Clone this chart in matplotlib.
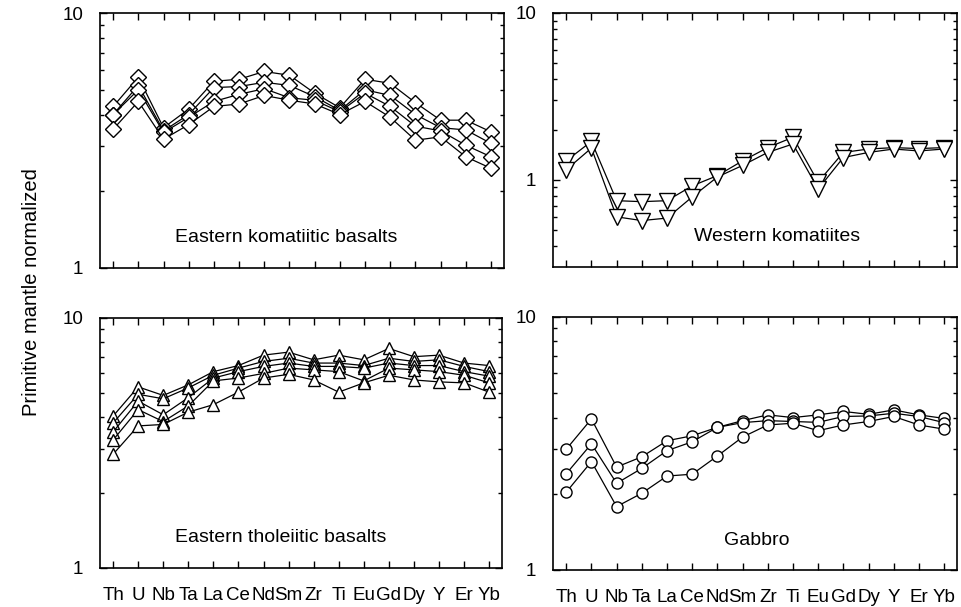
import numpy as np
import matplotlib
matplotlib.use("Agg")
import matplotlib.pyplot as plt
from matplotlib.ticker import FixedLocator, NullFormatter

plt.rcParams['font.family'] = ['Liberation Sans', 'DejaVu Sans']

elements = ['Th', 'U', 'Nb', 'Ta', 'La', 'Ce', 'Nd', 'Sm', 'Zr', 'Ti',
            'Eu', 'Gd', 'Dy', 'Y', 'Er', 'Yb']

# Eastern komatiitic basalts (4 samples)
ekb_1 = [4.3, 5.6, 3.55, 4.2, 5.4, 5.5, 5.9, 5.7, 4.85, 4.25, 5.5, 5.3, 4.45, 3.8, 3.8, 3.42]
ekb_2 = [4.0, 5.2, 3.45, 4.0, 5.1, 5.15, 5.35, 5.2, 4.7, 4.15, 5.0, 4.75, 4.0, 3.55, 3.48, 3.08]
ekb_3 = [4.0, 5.0, 3.4, 3.9, 4.5, 4.8, 5.05, 4.65, 4.55, 4.1, 4.85, 4.3, 3.6, 3.45, 3.03, 2.73]
ekb_4 = [3.5, 4.5, 3.2, 3.65, 4.3, 4.4, 4.75, 4.55, 4.4, 4.0, 4.5, 3.9, 3.17, 3.27, 2.73, 2.46]

# Western komatiites (2 samples)
wk_1 = [1.3, 1.7, 0.75, 0.74, 0.75, 0.92, 1.06, 1.30, 1.56, 1.80, 0.97, 1.46, 1.53, 1.56, 1.54, 1.56]
wk_2 = [1.15, 1.55, 0.60, 0.57, 0.59, 0.79, 1.04, 1.22, 1.46, 1.64, 0.88, 1.36, 1.46, 1.53, 1.49, 1.53]

# Eastern tholeiitic basalts (5 samples)
etb_1 = [4.05, 5.3, 4.9, 5.4, 6.1, 6.45, 7.1, 7.3, 6.8, 7.1, 6.8, 7.55, 7.0, 7.1, 6.6, 6.45]
etb_2 = [3.8, 4.95, 4.75, 5.25, 5.9, 6.3, 6.7, 6.9, 6.6, 6.6, 6.45, 6.9, 6.7, 6.8, 6.4, 6.1]
etb_3 = [3.5, 4.65, 4.1, 4.8, 5.75, 6.1, 6.4, 6.6, 6.4, 6.4, 6.3, 6.6, 6.45, 6.45, 6.1, 5.85]
etb_4 = [3.25, 4.3, 3.85, 4.45, 5.6, 5.75, 6.0, 6.3, 6.2, 6.1, 5.6, 6.3, 6.2, 6.1, 5.9, 5.5]
etb_5 = [2.85, 3.7, 3.75, 4.2, 4.5, 5.05, 5.75, 5.95, 5.65, 5.05, 5.5, 5.9, 5.65, 5.55, 5.5, 5.05]

# Gabbro (3 samples)
gab_1 = [3.0, 3.95, 2.55, 2.8, 3.24, 3.39, 3.66, 3.89, 4.1, 4.0, 4.1, 4.23, 4.12, 4.29, 4.1, 3.97]
gab_2 = [2.4, 3.15, 2.2, 2.52, 2.96, 3.21, 3.66, 3.82, 3.89, 3.86, 3.83, 4.04, 4.06, 4.16, 4.04, 3.82]
gab_3 = [2.03, 2.68, 1.78, 2.01, 2.35, 2.39, 2.82, 3.35, 3.74, 3.8, 3.55, 3.74, 3.86, 4.04, 3.74, 3.6]

x = np.arange(len(elements))

fig = plt.figure(figsize=(9.62, 6.07), dpi=100)
ax_tl = fig.add_axes([0.104, 0.5585, 0.420, 0.420])
ax_tr = fig.add_axes([0.575, 0.560, 0.420, 0.4186])
ax_bl = fig.add_axes([0.104, 0.0643, 0.418, 0.4119])
ax_br = fig.add_axes([0.575, 0.061, 0.420, 0.417])


def style_axis(ax, ylo, yhi, minors, labels_x):
    ax.set_yscale('log')
    ax.set_xlim(-0.52, 15.52)
    ax.set_ylim(ylo, yhi)
    ax.set_xticks(x)
    if labels_x:
        ax.set_xticklabels(elements, fontsize=13.5)
    else:
        ax.set_xticklabels([])
    ax.yaxis.set_major_locator(FixedLocator([1, 10]))
    ax.set_yticklabels(['1', '10'], fontsize=13.5)
    ax.yaxis.set_minor_locator(FixedLocator(minors))
    ax.yaxis.set_minor_formatter(NullFormatter())
    ax.tick_params(axis='x', which='major', direction='in', top=True, bottom=True,
                   length=5, width=1, pad=14)
    ax.tick_params(axis='y', which='major', direction='in', left=True, right=True,
                   length=5, width=1, pad=12)
    ax.tick_params(axis='y', which='minor', direction='in', left=True, right=True,
                   length=3, width=1)
    for s in ax.spines.values():
        s.set_linewidth(1.2)


def draw(ax, series, marker, ms):
    for s in series:
        ax.plot(x, s, color='black', lw=0.9, marker=marker, ms=ms,
                mfc='white', mec='black', mew=1.0)


minor_1_10 = [2, 3, 4, 5, 6, 7, 8, 9]

draw(ax_tl, [ekb_1, ekb_2, ekb_3, ekb_4], 'D', 8)
style_axis(ax_tl, 1, 10, minor_1_10, False)
ax_tl.text(0.46, 0.12, 'Eastern komatiitic basalts', transform=ax_tl.transAxes,
           ha='center', va='center', fontsize=14)

draw(ax_tr, [wk_1, wk_2], 'v', 11)
style_axis(ax_tr, 0.3, 10, [0.4, 0.5, 0.6, 0.7, 0.8, 0.9] + minor_1_10, False)
ax_tr.text(0.555, 0.12, 'Western komatiites', transform=ax_tr.transAxes,
           ha='center', va='center', fontsize=14)

draw(ax_bl, [etb_1, etb_2, etb_3, etb_4, etb_5], '^', 9)
style_axis(ax_bl, 1, 10, minor_1_10, True)
ax_bl.text(0.45, 0.12, 'Eastern tholeiitic basalts', transform=ax_bl.transAxes,
           ha='center', va='center', fontsize=14)

draw(ax_br, [gab_1, gab_2, gab_3], 'o', 8)
style_axis(ax_br, 1, 10, minor_1_10, True)
ax_br.text(0.505, 0.115, 'Gabbro', transform=ax_br.transAxes,
           ha='center', va='center', fontsize=14)

fig.text(0.033, 0.519, 'Primitive mantle normalized', rotation=90,
         ha='center', va='center', fontsize=14.5)

fig.savefig('out.png', dpi=100)
